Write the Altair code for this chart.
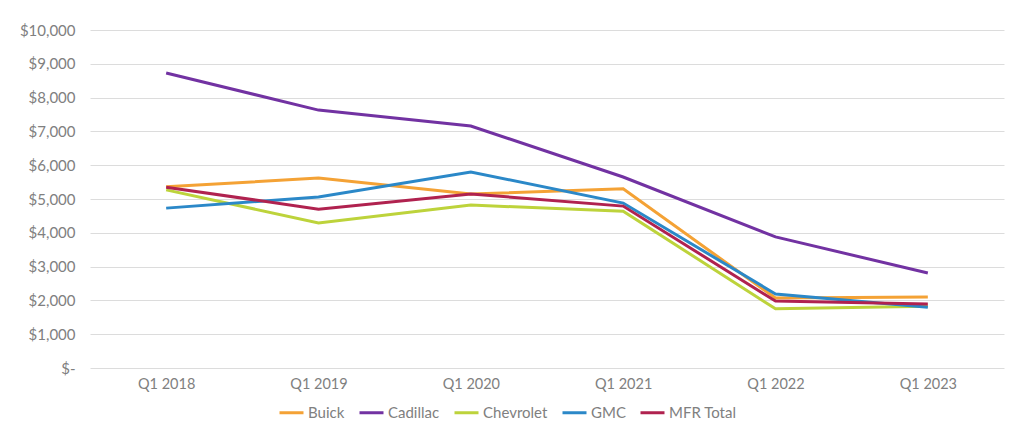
import altair as alt
import pandas as pd

quarters = ["Q1 2018", "Q1 2019", "Q1 2020", "Q1 2021", "Q1 2022", "Q1 2023"]
series_names = ["Buick", "Cadillac", "Chevrolet", "GMC", "MFR Total"]
buick = [5360, 5620, 5150, 5300, 2070, 2100]
cadillac = [8730, 7630, 7160, 5650, 3880, 2810]
chevrolet = [5270, 4290, 4820, 4640, 1750, 1830]
gmc = [4730, 5060, 5800, 4880, 2190, 1800]
mfr_total = [5350, 4700, 5150, 4790, 1980, 1890]
colors = ["#F4A235", "#7232A2", "#BDD33B", "#2B88C8", "#B0224F"]

rows = []
for name, vals in zip(series_names, [buick, cadillac, chevrolet, gmc, mfr_total]):
    for q, v in zip(quarters, vals):
        rows.append({"Quarter": q, "Series": name, "Value": v})
df = pd.DataFrame(rows)

chart = alt.Chart(df).mark_line(strokeWidth=3).encode(
    x=alt.X("Quarter:N", sort=quarters, title=None,
            scale=alt.Scale(type="point", padding=0.5),
            axis=alt.Axis(labelAngle=0, ticks=False, domain=False, grid=False,
                          labelPadding=9, labelFontSize=14.5, labelColor="#808080",
                          labelFont="Lato")),
    y=alt.Y("Value:Q", title=None,
            scale=alt.Scale(domain=[0, 10000], nice=False),
            axis=alt.Axis(values=list(range(0, 10001, 1000)), ticks=False, domain=False,
                          gridColor="#dcdcdc", gridWidth=1, labelPadding=15,
                          labelFontSize=15, labelColor="#808080", labelFont="Lato",
                          labelExpr="datum.value == 0 ? '$-' : '$' + format(datum.value, ',')")),
    color=alt.Color("Series:N", sort=series_names,
                    scale=alt.Scale(domain=series_names, range=colors),
                    legend=alt.Legend(title=None, orient="none", direction="horizontal",
                                      legendX=188, legendY=369, symbolType="stroke",
                                      symbolStrokeWidth=3, symbolSize=576,
                                      labelFontSize=15, labelColor="#808080",
                                      labelFont="Lato", columnPadding=8,
                                      labelOffset=3)),
).properties(
    width=914, height=338,
    autosize=alt.AutoSizeParams(type="none"),
    padding={"left": 82, "top": 22, "right": 12, "bottom": 57},
).configure(background="white").configure_view(stroke=None)

chart.save("out.html", embed_options={"renderer": "svg", "actions": False})
